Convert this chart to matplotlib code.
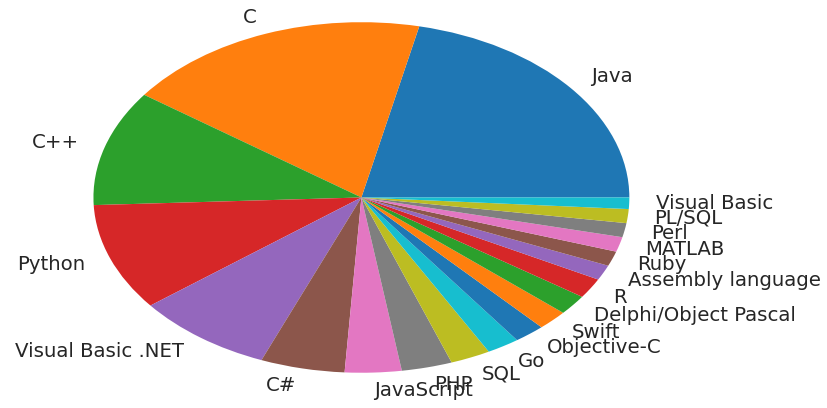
import matplotlib
matplotlib.use("Agg")
import matplotlib.pyplot as plt

# TIOBE index, top 20 languages (percent)
languages = ['Java', 'C', 'C++', 'Python', 'Visual Basic .NET', 'C#',
             'JavaScript', 'PHP', 'SQL', 'Go', 'Objective-C', 'Swift',
             'Delphi/Object Pascal', 'R', 'Assembly language', 'Ruby',
             'MATLAB', 'Perl', 'PL/SQL', 'Visual Basic']
ratings = [16.748, 14.396, 8.282, 7.683, 6.490, 3.952,
           2.655, 2.376, 1.88, 1.54, 1.45, 1.43,
           1.43, 1.43, 1.08, 1.06, 1.06, 1.01, 1.0, 0.82]

fig = plt.figure(figsize=(8.27, 4.08), dpi=100)
# axes placed so the (stretched) pie lands where it is in the reference
ax = fig.add_axes([0.032, -0.021, 0.810, 1.074])

wedges, texts = ax.pie(ratings, labels=languages,
                       textprops={'fontsize': 14.2, 'color': '#262626'})
ax.set_aspect('auto')
ax.set_xlim(-1.25, 1.25)
ax.set_ylim(-1.25, 1.25)
ax.axis('off')

fig.savefig('out.png', dpi=100)
